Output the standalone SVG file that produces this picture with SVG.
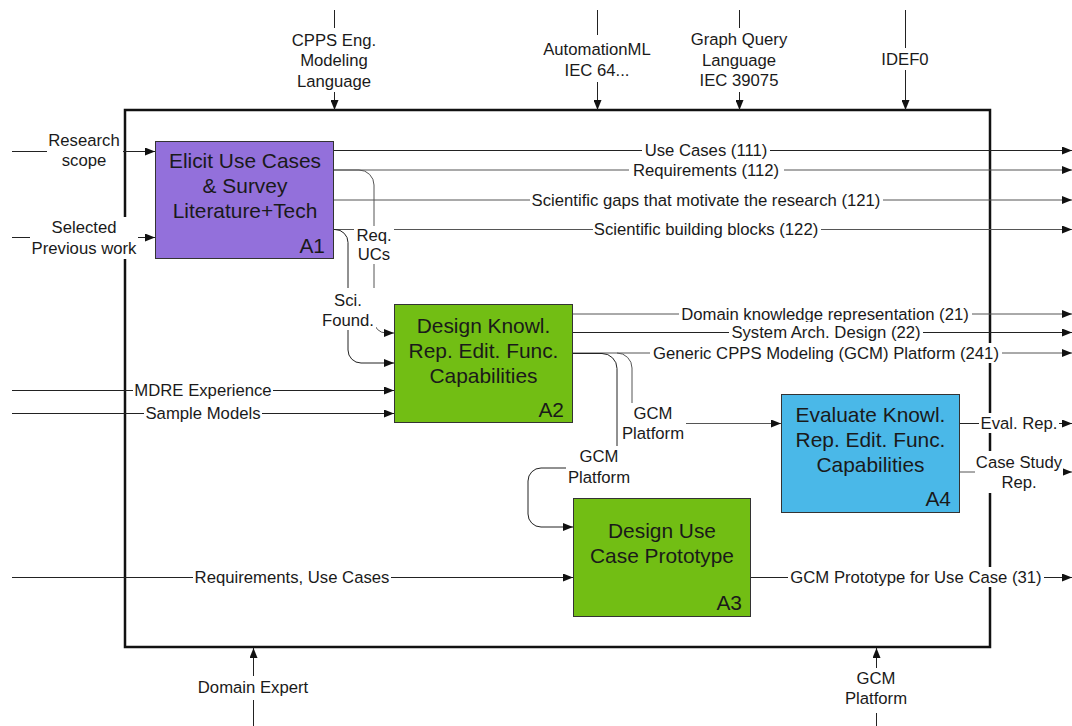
<svg xmlns="http://www.w3.org/2000/svg" width="1072" height="726" viewBox="0 0 1072 726">
  <style>
    .frame { fill: none; stroke: #111; stroke-width: 2.5; }
    .box { stroke: #333; stroke-width: 1; }
    .a1 { fill: #9370DB; }
    .green { fill: #72BE14; }
    .blue { fill: #4AB8E8; }
    .title { font-family: "Liberation Sans", Arial, sans-serif; font-size: 20.9px; fill: #1a1a1a; text-anchor: middle; }
    .tag { font-family: "Liberation Sans", Arial, sans-serif; font-size: 20.9px; fill: #1a1a1a; text-anchor: end; }
    .lbl { font-family: "Liberation Sans", Arial, sans-serif; font-size: 16.7px; fill: #1a1a1a; text-anchor: middle; }
    .bg { fill: #fff; }
    .c { fill: none; stroke: #222; stroke-width: 1; }
    .g { fill: none; stroke: #555; stroke-width: 1; }
    .arr { marker-end: url(#head); }
  </style>
  <defs>
    <marker id="head" markerUnits="userSpaceOnUse" markerWidth="10" markerHeight="8" refX="10" refY="4" orient="auto">
      <path d="M0,0 L10,4 L0,8 z" fill="#111"/>
    </marker>
  </defs>
  <rect width="1072" height="726" fill="#fff"/>

  <!-- context boundary -->
  <rect class="frame" x="125" y="110" width="865" height="537"/>

  <g id="connectors">
    <!-- controls entering from the top -->
    <path class="c arr" d="M334.5,10 V110"/>
    <path class="c arr" d="M597.5,10 V110"/>
    <path class="c arr" d="M739.5,10 V110"/>
    <path class="c arr" d="M905.5,10 V110"/>
    <!-- mechanisms entering from the bottom -->
    <path class="c arr" d="M253.5,726 V648"/>
    <path class="c arr" d="M876.5,726 V648"/>

    <!-- inputs -->
    <path class="c arr" d="M12,151.5 H155"/>
    <path class="c arr" d="M12,237.5 H155"/>
    <path class="c arr" d="M12,390.5 H394"/>
    <path class="c arr" d="M12,413.5 H394"/>
    <path class="c arr" d="M12,577.5 H573"/>

    <!-- A1 outputs -->
    <path class="c arr" d="M334,150.5 H1072"/>
    <path class="g arr" d="M334,170 H1072"/>
    <path class="g arr" d="M334,200 H1072"/>
    <path class="g arr" d="M334,229.5 H1072"/>
    <path class="g arr" d="M334,170 H359 A15,15 0 0 1 374,185 V321 A12,12 0 0 0 386,333 H394"/>
    <path class="c arr" d="M334,229.5 H335 A13,13 0 0 1 348,242.5 V350 A13,13 0 0 0 361,363 H394"/>

    <!-- A2 outputs -->
    <path class="g arr" d="M573,314 H1072"/>
    <path class="c arr" d="M573,332.5 H1072"/>
    <path class="g arr" d="M573,353 H1072"/>
    <path class="c" d="M573,353.5 H602"/>
    <path class="g arr" d="M617,353 A15,15 0 0 1 632,368 V423.5 H781"/>
    <path class="c arr" d="M602,353.5 A15,15 0 0 1 617,368.5 V468 H541 A13,13 0 0 0 528,481 V514 A13,13 0 0 0 541,527 H573"/>

    <!-- A3 and A4 outputs -->
    <path class="c arr" d="M751,577.5 H1072"/>
    <path class="c arr" d="M960,423.5 H1072"/>
    <path class="g arr" d="M960,472 H1072"/>

    <!-- labels (white backing hides the lines they sit on) -->
    <g id="labels">
      <rect class="bg" x="289" y="28" width="90" height="64"/>
      <text class="lbl" x="334" y="46">CPPS Eng.</text>
      <text class="lbl" x="334" y="66">Modeling</text>
      <text class="lbl" x="334" y="87">Language</text>

      <rect class="bg" x="541" y="35" width="113" height="47"/>
      <text class="lbl" x="597" y="55">AutomationML</text>
      <text class="lbl" x="597" y="76">IEC 64...</text>

      <rect class="bg" x="689" y="28" width="101" height="64"/>
      <text class="lbl" x="739" y="45">Graph Query</text>
      <text class="lbl" x="739" y="66">Language</text>
      <text class="lbl" x="739" y="86">IEC 39075</text>

      <rect class="bg" x="880" y="48" width="51" height="22"/>
      <text class="lbl" x="905" y="65">IDEF0</text>

      <rect class="bg" x="196" y="676" width="115" height="24"/>
      <text class="lbl" x="253" y="693">Domain Expert</text>

      <rect class="bg" x="843" y="668" width="67" height="45"/>
      <text class="lbl" x="876" y="684">GCM</text>
      <text class="lbl" x="876" y="704">Platform</text>

      <rect class="bg" x="47" y="130" width="76" height="41"/>
      <text class="lbl" x="84" y="146">Research</text>
      <text class="lbl" x="84" y="166">scope</text>

      <rect class="bg" x="30" y="217" width="108" height="42"/>
      <text class="lbl" x="84" y="233">Selected</text>
      <text class="lbl" x="84" y="254">Previous work</text>

      <rect class="bg" x="133" y="380" width="140" height="20"/>
      <text class="lbl" x="203" y="396">MDRE Experience</text>
      <rect class="bg" x="144" y="403" width="118" height="20"/>
      <text class="lbl" x="203" y="419">Sample Models</text>

      <rect class="bg" x="193" y="567" width="198" height="20"/>
      <text class="lbl" x="292" y="583">Requirements, Use Cases</text>

      <rect class="bg" x="642" y="140" width="128" height="20"/>
      <text class="lbl" x="706" y="156">Use Cases (111)</text>
      <rect class="bg" x="629" y="160" width="155" height="20"/>
      <text class="lbl" x="706" y="176">Requirements (112)</text>
      <rect class="bg" x="530" y="190" width="353" height="20"/>
      <text class="lbl" x="706" y="206">Scientific gaps that motivate the research (121)</text>
      <rect class="bg" x="593" y="219" width="228" height="20"/>
      <text class="lbl" x="706" y="235">Scientific building blocks (122)</text>

      <rect class="bg" x="354" y="226" width="40" height="38"/>
      <text class="lbl" x="374" y="241">Req.</text>
      <text class="lbl" x="374" y="260">UCs</text>

      <rect class="bg" x="320" y="288" width="56" height="42"/>
      <text class="lbl" x="348" y="306">Sci.</text>
      <text class="lbl" x="348" y="326">Found.</text>

      <rect class="bg" x="679" y="304" width="293" height="20"/>
      <text class="lbl" x="825" y="320">Domain knowledge representation (21)</text>
      <rect class="bg" x="729" y="322" width="194" height="20"/>
      <text class="lbl" x="826" y="338">System Arch. Design (22)</text>
      <rect class="bg" x="650" y="343" width="352" height="20"/>
      <text class="lbl" x="826" y="359">Generic CPPS Modeling (GCM) Platform (241)</text>

      <rect class="bg" x="620" y="403" width="66" height="42"/>
      <text class="lbl" x="653" y="419">GCM</text>
      <text class="lbl" x="653" y="439">Platform</text>

      <rect class="bg" x="566" y="446" width="66" height="42"/>
      <text class="lbl" x="599" y="462">GCM</text>
      <text class="lbl" x="599" y="483">Platform</text>

      <rect class="bg" x="788" y="567" width="256" height="20"/>
      <text class="lbl" x="916" y="583">GCM Prototype for Use Case (31)</text>

      <rect class="bg" x="979" y="413" width="80" height="20"/>
      <text class="lbl" x="1019" y="429">Eval. Rep.</text>

      <rect class="bg" x="975" y="451" width="88" height="42"/>
      <text class="lbl" x="1019" y="468">Case Study</text>
      <text class="lbl" x="1019" y="488">Rep.</text>
    </g>
  </g>

  <g id="A1">
    <rect class="box a1" x="155.5" y="141.5" width="178" height="117"/>
    <text class="title" x="245" y="168">Elicit Use Cases</text>
    <text class="title" x="245" y="193">&amp; Survey</text>
    <text class="title" x="245" y="218">Literature+Tech</text>
    <text class="tag" x="325" y="253">A1</text>
  </g>

  <g id="A2">
    <rect class="box green" x="394.5" y="304.5" width="178" height="118"/>
    <text class="title" x="483.5" y="333">Design Knowl.</text>
    <text class="title" x="483.5" y="358">Rep. Edit. Func.</text>
    <text class="title" x="483.5" y="383">Capabilities</text>
    <text class="tag" x="564" y="417">A2</text>
  </g>

  <g id="A3">
    <rect class="box green" x="573.5" y="498.5" width="177" height="118"/>
    <text class="title" x="662" y="538">Design Use</text>
    <text class="title" x="662" y="563">Case Prototype</text>
    <text class="tag" x="742" y="610">A3</text>
  </g>

  <g id="A4">
    <rect class="box blue" x="781.5" y="394.5" width="178" height="118"/>
    <text class="title" x="870.5" y="422">Evaluate Knowl.</text>
    <text class="title" x="870.5" y="447">Rep. Edit. Func.</text>
    <text class="title" x="870.5" y="472">Capabilities</text>
    <text class="tag" x="951" y="506">A4</text>
  </g>
</svg>
